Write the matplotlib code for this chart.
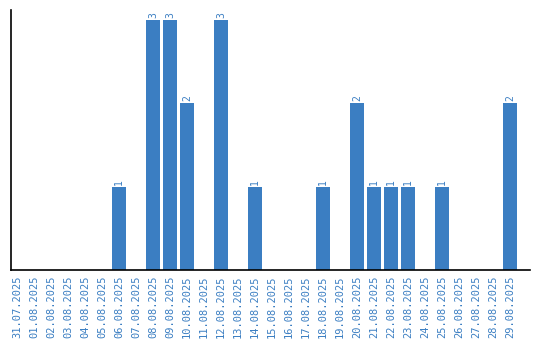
import matplotlib
matplotlib.use("Agg")
import matplotlib.pyplot as plt

dates = ["31.07.2025", "01.08.2025", "02.08.2025", "03.08.2025", "04.08.2025",
         "05.08.2025", "06.08.2025", "07.08.2025", "08.08.2025", "09.08.2025",
         "10.08.2025", "11.08.2025", "12.08.2025", "13.08.2025", "14.08.2025",
         "15.08.2025", "16.08.2025", "17.08.2025", "18.08.2025", "19.08.2025",
         "20.08.2025", "21.08.2025", "22.08.2025", "23.08.2025", "24.08.2025",
         "25.08.2025", "26.08.2025", "27.08.2025", "28.08.2025", "29.08.2025"]
counts = [0, 0, 0, 0, 0, 0, 1, 0, 3, 3, 2, 0, 3, 0, 1,
          0, 0, 0, 1, 0, 2, 1, 1, 1, 0, 1, 0, 0, 0, 2]

blue = "#3b7ec2"

fig = plt.figure(figsize=(5.4, 3.4), dpi=100)
ax = fig.add_axes([11 / 540, 70 / 340, 519 / 540, 260 / 340])

x = list(range(len(dates)))
bars = ax.bar(x, counts, width=14 / 17, color=blue)

for xi, c in zip(x, counts):
    if c > 0:
        ax.annotate(str(c), (xi, c), xytext=(0, 1.5), textcoords="offset points",
                    rotation=90, ha="center", va="bottom", color=blue,
                    fontsize=7, family="DejaVu Sans Mono")

ax.set_xlim(-6 / 17, 29 + 20 / 17)
ax.set_ylim(0, 3 + 10 / 83.3)
ax.set_xticks(x)
ax.set_xticklabels(dates, rotation=90, color=blue, fontsize=7.5, family="DejaVu Sans Mono")
ax.set_yticks([])
ax.tick_params(axis="x", length=0, pad=4)
for s in ["top", "right"]:
    ax.spines[s].set_visible(False)
ax.spines["left"].set_linewidth(1.2)
ax.spines["bottom"].set_linewidth(1.2)

plt.savefig("out.png", dpi=100)
